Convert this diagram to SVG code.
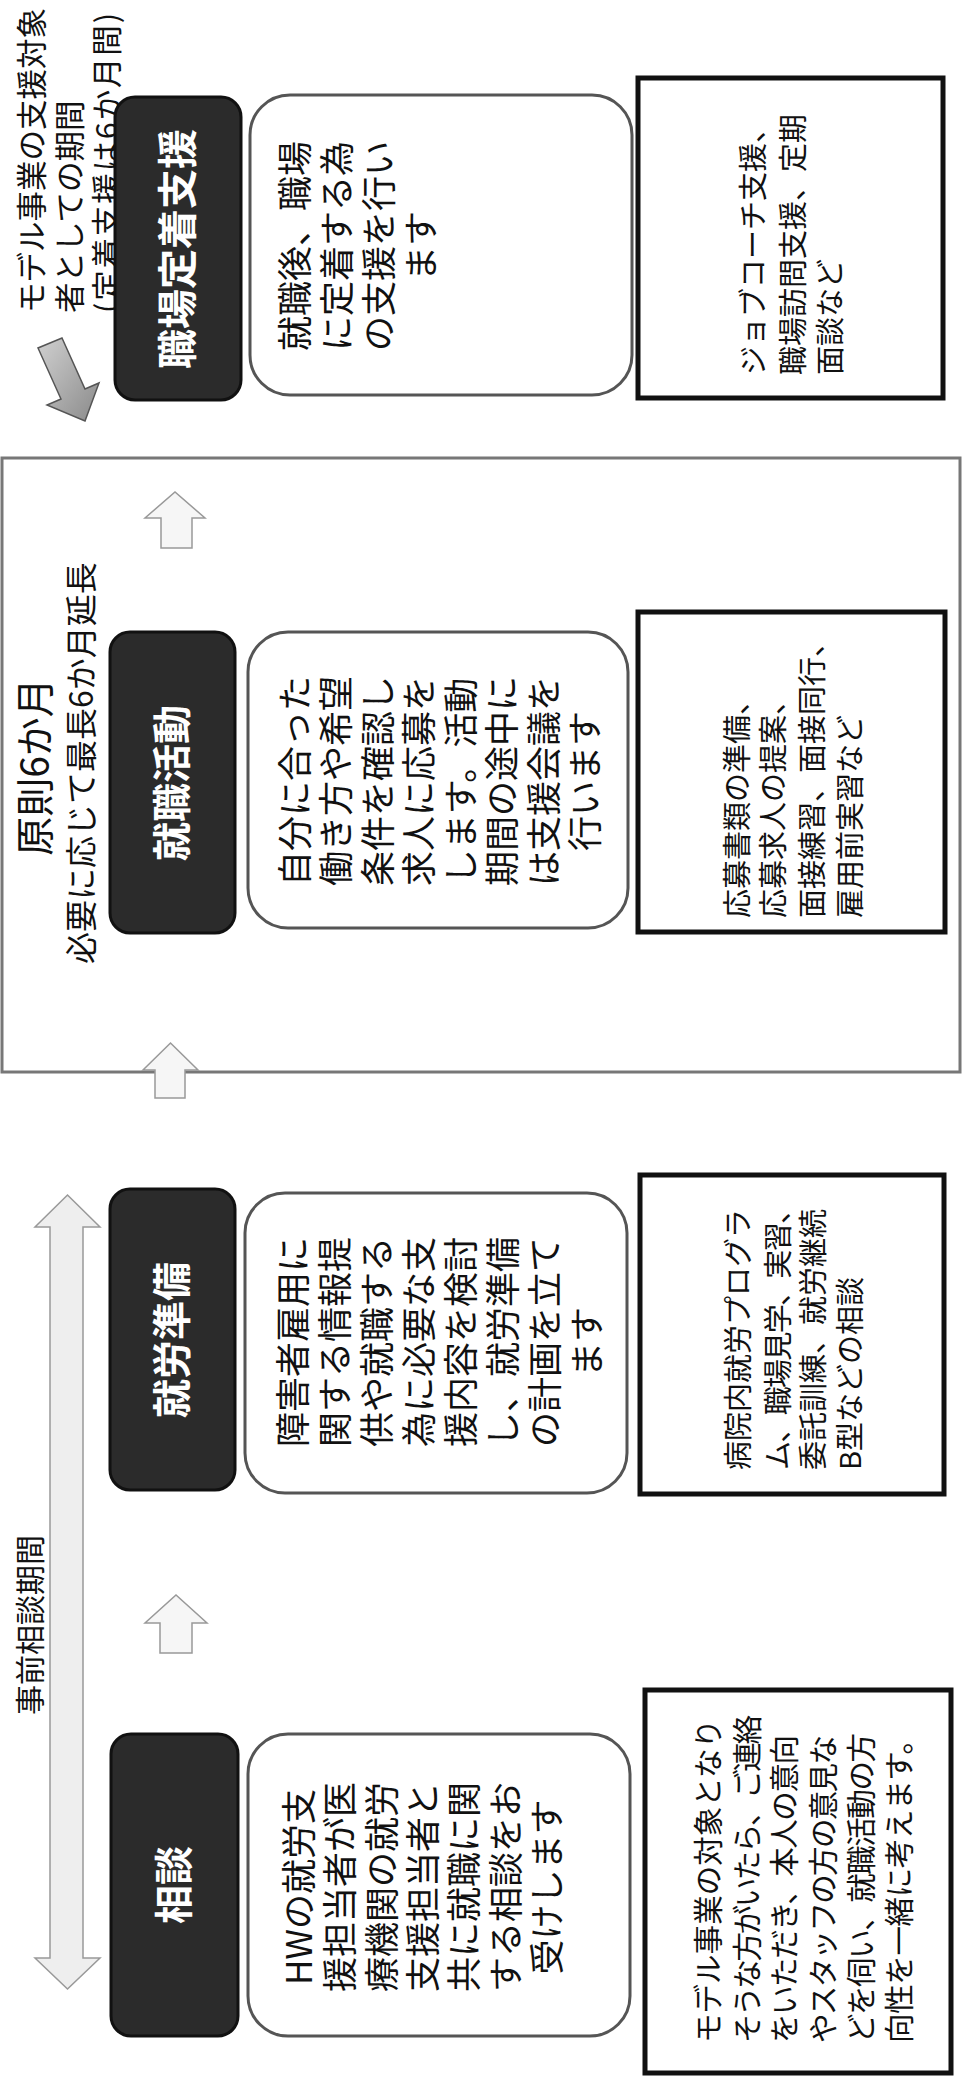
<svg xmlns="http://www.w3.org/2000/svg" width="962" height="2079" viewBox="0 0 962 2079">
<defs>
<style>
text{font-family:"Noto Sans CJK JP","Noto Sans",sans-serif;fill:#111}
.head{fill:#2b2b2b;stroke:#111;stroke-width:3}
.headt{font-size:39px;font-weight:bold;fill:#fff;text-anchor:middle}
.desc{fill:#fff;stroke:#555;stroke-width:3}
.desct{font-size:35px;text-anchor:middle}
.box{fill:#fff;stroke:#111;stroke-width:5}
.boxt{font-size:29px}
.lbl{font-size:30px}
.harrow{fill:#f6f6f6;stroke:#999;stroke-width:1.5}
</style>
<linearGradient id="dg" x1="0" y1="0" x2="1" y2="1">
<stop offset="0" stop-color="#d0d0d0"/>
<stop offset="1" stop-color="#8a8a8a"/>
</linearGradient>
</defs>
<rect x="0" y="0" width="962" height="2079" fill="#fff"/>
<g transform="matrix(0 -1 1 0 0 2079)">
<g id="frame">
<rect x="1007" y="2" width="614" height="958" fill="none" stroke="#777" stroke-width="3"/>
<text class="lbl" x="1312" y="49" text-anchor="middle" style="font-size:39px">原則6か月</text>
<text class="lbl" x="1316" y="93" text-anchor="middle" style="font-size:32px">必要に応じて最長6か月延長</text>
</g>
<g id="connectors">
<polygon points="90,67.5 121,35 121,50 852,50 852,35 884,67.5 852,100 852,83 121,83 121,100" fill="#eeeeee" stroke="#999" stroke-width="1.5"/>
<polygon class="harrow" points="426,160 456,160 456,145 484,176 456,207 456,192 426,192"/>
<polygon class="harrow" points="981,155 1009,155 1009,143 1036,170.5 1009,198 1009,185 981,185"/>
<polygon class="harrow" points="1531,161 1561,161 1561,145 1587,175 1561,205 1561,192 1531,192"/>
</g>
<g id="label-pre">
<text class="lbl" x="364" y="41">事前相談期間</text>
</g>
<g id="label-model">
<text class="lbl" x="1766" y="43" style="font-size:30.5px">モデル事業の支援対象</text>
<text class="lbl" x="1766" y="81" style="font-size:30.5px">者としての期間</text>
<text class="lbl" x="1766" y="118" style="font-size:30.5px" textLength="300">(定着支援は6か月間)</text>
</g>
<g id="node-soudan">
<rect class="head" x="43" y="111" width="302" height="127" rx="20"/>
<text class="headt" x="194" y="188">相談</text>
<rect class="desc" x="43" y="248" width="302" height="382" rx="40"/>
<text class="desct" x="192" y="312">HWの就労支</text>
<text class="desct" x="192" y="353">援担当者が医</text>
<text class="desct" x="192" y="395">療機関の就労</text>
<text class="desct" x="192" y="436">支援担当者と</text>
<text class="desct" x="192" y="477">共に就職に関</text>
<text class="desct" x="192" y="519">する相談をお</text>
<text class="desct" x="192" y="560">受けします</text>
<rect class="box" x="6" y="645" width="383" height="306"/>
<text class="boxt" x="36" y="719" style="font-size:29.5px" textLength="324">モデル事業の対象となり</text>
<text class="boxt" x="36" y="758" style="font-size:29.5px" textLength="328">そうな方がいたら、ご連絡</text>
<text class="boxt" x="36" y="795" style="font-size:29.5px" textLength="308">をいただき、本人の意向</text>
<text class="boxt" x="36" y="834" style="font-size:29.5px" textLength="308">やスタッフの方の意見な</text>
<text class="boxt" x="36" y="872" style="font-size:29.5px" textLength="310">どを伺い、就職活動の方</text>
<text class="boxt" x="36" y="910" style="font-size:29.5px" textLength="318">向性を一緒に考えます。</text>
</g>
<g id="node-junbi">
<rect class="head" x="589" y="110" width="301" height="125" rx="20"/>
<text class="headt" x="739" y="186">就労準備</text>
<rect class="desc" x="586" y="245" width="300" height="382" rx="40"/>
<text class="desct" x="737" y="306">障害者雇用に</text>
<text class="desct" x="737" y="348">関する情報提</text>
<text class="desct" x="737" y="390">供や就職する</text>
<text class="desct" x="737" y="432">為に必要な支</text>
<text class="desct" x="737" y="474">援内容を検討</text>
<text class="desct" x="737" y="516">し、就労準備</text>
<text class="desct" x="737" y="558">の計画を立て</text>
<text class="desct" x="737" y="600">ます</text>
<rect class="box" x="585" y="640" width="319" height="304"/>
<text class="boxt" x="609" y="749">病院内就労プログラ</text>
<text class="boxt" x="609" y="789" textLength="275">ム、職場見学、実習、</text>
<text class="boxt" x="609" y="824">委託訓練、就労継続</text>
<text class="boxt" x="609" y="861">B型などの相談</text>
</g>
<g id="node-katsudou">
<rect class="head" x="1146" y="110" width="301" height="125" rx="20"/>
<text class="headt" x="1296" y="186">就職活動</text>
<rect class="desc" x="1151" y="248" width="296" height="380" rx="40"/>
<text class="desct" x="1298" y="308">自分に合った</text>
<text class="desct" x="1298" y="349">働き方や希望</text>
<text class="desct" x="1298" y="391">条件を確認し</text>
<text class="desct" x="1298" y="432">求人に応募を</text>
<text class="desct" x="1298" y="474">します。活動</text>
<text class="desct" x="1298" y="515">期間の途中に</text>
<text class="desct" x="1298" y="557">は支援会議を</text>
<text class="desct" x="1298" y="598">行います</text>
<rect class="box" x="1147" y="638" width="320" height="307"/>
<text class="boxt" x="1161" y="748">応募書類の準備、</text>
<text class="boxt" x="1161" y="784">応募求人の提案、</text>
<text class="boxt" x="1161" y="823">面接練習、面接同行、</text>
<text class="boxt" x="1161" y="861">雇用前実習など</text>
</g>
<g id="node-teichaku">
<rect class="head" x="1679" y="115" width="303" height="126" rx="20"/>
<text class="headt" x="1830" y="192" style="font-size:40px">職場定着支援</text>
<rect class="desc" x="1684" y="250" width="300" height="382" rx="40"/>
<text class="desct" x="1833" y="308">就職後、職場</text>
<text class="desct" x="1833" y="350">に定着する為</text>
<text class="desct" x="1833" y="392">の支援を行い</text>
<text class="desct" x="1833" y="434">ます</text>
<rect class="box" x="1681" y="638" width="320" height="305"/>
<text class="boxt" x="1704" y="764">ジョブコーチ支援、</text>
<text class="boxt" x="1704" y="804">職場訪問支援、定期</text>
<text class="boxt" x="1704" y="841">面談など</text>
</g>
</g>
<g id="diag-arrow">
<polygon points="62,338 85,389 99,383 85,421 47,405 61,399 38,348" fill="url(#dg)" stroke="#555" stroke-width="1.5"/>
</g>
</svg>
